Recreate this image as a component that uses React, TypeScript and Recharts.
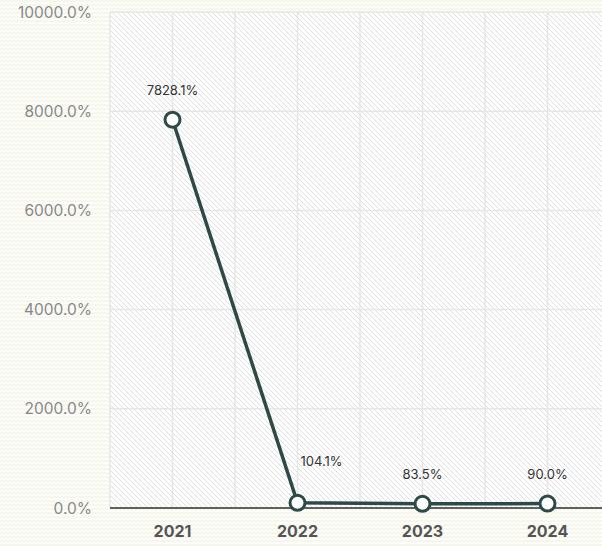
import React from "react";
import { LineChart, Line, XAxis, YAxis, CartesianGrid, LabelList } from "recharts";

const YEARS = ["2021", "2022", "2023", "2024"];
const GROWTH = [7828.1, 104.1, 83.5, 90.0];
const Y_TICKS = [0, 2000, 4000, 6000, 8000, 10000];
// category centres plus the band edges, so the grid shows both
const X_TICKS = [-0.5, 0, 0.5, 1, 1.5, 2, 2.5, 3, 3.5];

const data = YEARS.map((year, i) => ({ idx: i, year, growth: GROWTH[i] }));

const FONT = "Inter, 'DejaVu Sans', sans-serif";
const LINE = "#2d4a47";

const pageBg =
    "url(\"data:image/svg+xml;utf8," +
    encodeURIComponent(
        "<svg xmlns='http://www.w3.org/2000/svg' width='8' height='8'>" +
            "<rect width='8' height='8' fill='#fefefb'/>" +
            "<polyline points='0,6 2,4 4,6 6,4 8,6' fill='none' stroke='#f4f3e8' stroke-width='1.2'/>" +
            "<polyline points='0,2 2,0 4,2 6,0 8,2' fill='none' stroke='#f4f3e8' stroke-width='1.2'/>" +
            "</svg>"
    ) +
    "\")";

const renderLabel = (props: any) => {
    const { x, y, value, index } = props;
    // the steep segment runs through the default spot for 2022, so push that one aside
    const dx = index === 1 ? 24 : 0;
    const dy = index === 1 ? -40 : -28;
    return (
        <text
            x={x + dx}
            y={y + dy}
            textAnchor="middle"
            dominantBaseline="middle"
            fontSize={13}
            fontFamily={FONT}
            fill="#333"
        >
            {`${Number(value).toFixed(1)}%`}
        </text>
    );
};

export default function App() {
    return (
        <div
            style={{
                position: "absolute",
                left: 0,
                top: 0,
                width: 602,
                height: 546,
                overflow: "hidden",
                backgroundImage: pageBg,
            }}
        >
            <LineChart
                width={620}
                height={546}
                data={data}
                margin={{ top: 12, right: 10, bottom: 0, left: 0 }}
            >
                <defs>
                    <pattern id="hatch" patternUnits="userSpaceOnUse" width="5" height="5">
                        <rect width="5" height="5" fill="#ffffff" />
                        <path d="M-1,-1 L6,6 M-1,4 L1,6 M4,-1 L6,1" stroke="#dedede" strokeWidth="1" />
                    </pattern>
                </defs>
                <CartesianGrid
                    fill="url(#hatch)"
                    fillOpacity={1}
                    stroke="#e6e6e6"
                    strokeWidth={1.5}
                />
                <XAxis
                    type="number"
                    dataKey="idx"
                    domain={[-0.5, 3.5]}
                    ticks={X_TICKS}
                    interval={0}
                    tickFormatter={(v: number) => (Number.isInteger(v) ? YEARS[v] : "")}
                    height={38}
                    tickLine={false}
                    tickSize={0}
                    tickMargin={18}
                    axisLine={{ stroke: "#333", strokeWidth: 1.5 }}
                    tick={{ fontSize: 16, fontWeight: 700, fill: "#555", fontFamily: FONT }}
                />
                <YAxis
                    domain={[0, 10000]}
                    ticks={Y_TICKS}
                    interval={0}
                    width={110}
                    tickLine={false}
                    tickSize={0}
                    tickMargin={18}
                    axisLine={false}
                    tickFormatter={(v: number) => `${v.toFixed(1)}%`}
                    tick={{ fontSize: 15.5, fill: "#888", fontFamily: FONT }}
                />
                <Line
                    type="linear"
                    dataKey="growth"
                    stroke={LINE}
                    strokeWidth={3.5}
                    dot={{ r: 7.5, fill: "#fff", stroke: LINE, strokeWidth: 3 }}
                    activeDot={false}
                    isAnimationActive={false}
                >
                    <LabelList dataKey="growth" content={renderLabel} />
                </Line>
            </LineChart>
        </div>
    );
}
